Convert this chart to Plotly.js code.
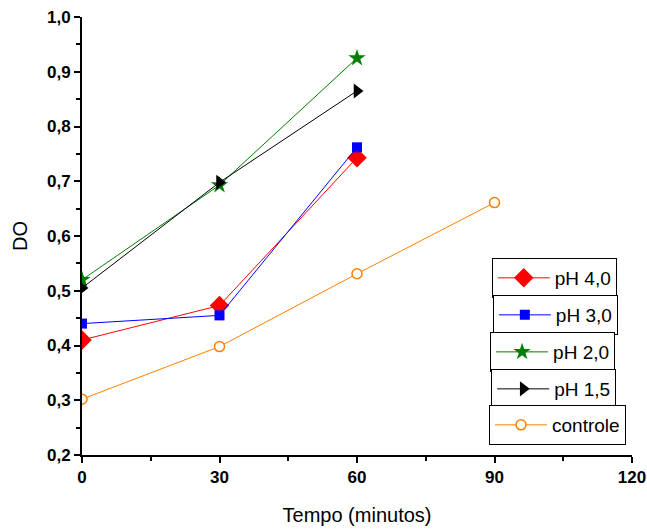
<!DOCTYPE html>
<html><head><meta charset="utf-8">
<script src="https://cdn.plot.ly/plotly-3.0.1.min.js"></script>
<style>body{margin:0;background:#fff}#c{width:647px;height:529px}</style>
</head><body><div id="c"></div>
<script>
const tempo3 = [0, 30, 60];
const tempo4 = [0, 30, 60, 90];
const ph40 = [0.410, 0.473, 0.743];
const ph30 = [0.440, 0.455, 0.762];
const ph20 = [0.520, 0.693, 0.925];
const ph15 = [0.505, 0.698, 0.865];
const controle = [0.302, 0.398, 0.531, 0.661];
const names = ['pH 4,0', 'pH 3,0', 'pH 2,0', 'pH 1,5', 'controle'];

function tr(x, y, name, color, symbol, size, leg, fill) {
  return {x: x, y: y, name: name, type: 'scatter', mode: 'lines+markers',
    line: {color: color, width: 1},
    marker: {symbol: symbol, size: size, color: fill || color, line: {color: color, width: fill ? 1.5 : 0}},
    cliponaxis: true, legend: leg, showlegend: true};
}
const data = [
  tr(tempo3, ph40, names[0], '#ff0000', 'diamond', 15, 'legend'),
  tr(tempo3, ph30, names[1], '#0000ff', 'square', 10, 'legend2'),
  tr(tempo3, ph20, names[2], '#007f00', 'star', 13, 'legend3'),
  tr(tempo3, ph15, names[3], '#000000', 'triangle-right', 13, 'legend4'),
  tr(tempo4, controle, names[4], '#ff8000', 'circle', 10, 'legend5', '#ffffff')
];
function lg(x, y) {
  return {x: x, y: y, xanchor: 'left', yanchor: 'top', bordercolor: '#000', borderwidth: 1,
    itemwidth: 52,
    bgcolor: '#fff', font: {family: 'Liberation Sans, Arial, sans-serif', size: 19, color: '#000'}};
}
const layout = {
  width: 647, height: 529,
  margin: {l: 82, r: 15, t: 17, b: 74},
  separators: ',.',
  showlegend: true,
  paper_bgcolor: '#fff', plot_bgcolor: '#fff',
  font: {family: 'Liberation Sans, Arial, sans-serif', color: '#000'},
  xaxis: {range: [0, 120], dtick: 30, tick0: 0, showgrid: false, zeroline: false,
    showline: true, linecolor: '#000', linewidth: 2, ticks: 'outside', ticklen: 6, tickwidth: 2,
    tickcolor: '#000', tickfont: {size: 17, weight: 'bold'},
    minor: {dtick: 15, ticks: 'outside', ticklen: 4, tickwidth: 2, tickcolor: '#000', showgrid: false},
    title: {text: 'Tempo (minutos)', font: {size: 20}, standoff: 22}},
  yaxis: {range: [0.2, 1.0], dtick: 0.1, tick0: 0.2, tickformat: '.1f', showgrid: false, zeroline: false,
    showline: true, linecolor: '#000', linewidth: 2, ticks: 'outside', ticklen: 6, tickwidth: 2,
    tickcolor: '#000', tickfont: {size: 17, weight: 'bold'},
    minor: {dtick: 0.05, ticks: 'outside', ticklen: 4, tickwidth: 2, tickcolor: '#000', showgrid: false},
    title: {text: 'DO', font: {size: 20}, standoff: 14}},
  legend: lg(0.745, 0.4498),
  legend2: lg(0.747, 0.3653),
  legend3: lg(0.742, 0.2808),
  legend4: lg(0.744, 0.1963),
  legend5: lg(0.740, 0.1142)
};
Plotly.newPlot('c', data, layout, {displayModeBar: false, staticPlot: true});
</script></body></html>
